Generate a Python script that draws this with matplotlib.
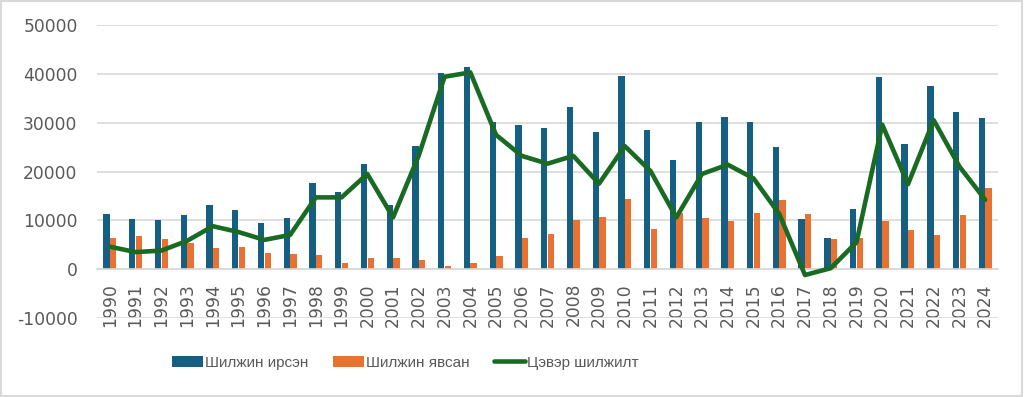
import matplotlib.pyplot as plt
import numpy as np
from matplotlib.patches import Rectangle

years = [str(y) for y in range(1990, 2025)]
arrived = [11200, 10300, 10000, 11000, 13100, 12200, 9400, 10400, 17700, 15900,
           21600, 13100, 25300, 40100, 41500, 30100, 29500, 29000, 33300, 28100,
           39600, 28500, 22400, 30100, 31200, 30200, 25100, 10200, 6400, 12300,
           39400, 25600, 37600, 32100, 30900]
left = [6400, 6700, 6100, 5300, 4300, 4500, 3400, 3200, 2900, 1200,
        2200, 2300, 1800, 600, 1200, 2700, 6400, 7300, 10100, 10600,
        14400, 8300, 11400, 10500, 9900, 11500, 14200, 11300, 6200, 6400,
        9800, 8000, 7000, 11000, 16700]
net = [4600, 3500, 3800, 5800, 8800, 7600, 6000, 7000, 14700, 14700,
       19500, 10600, 23300, 39400, 40300, 27500, 23200, 21600, 23200, 17500,
       25200, 20100, 10600, 19500, 21400, 18600, 11300, -1200, 200, 5500,
       29600, 17400, 30500, 21000, 14200]

blue = "#156082"
orange = "#E97132"
green = "#196B24"
grey = "#595959"

fig = plt.figure(figsize=(10.24, 3.97), dpi=100)
ax = fig.add_axes([0.0947, 0.199, 0.88, 0.738])

x = np.arange(len(years))
w = 0.245
b1 = ax.bar(x - 0.13, arrived, w, color=blue, label="Шилжин ирсэн", zorder=2)
b2 = ax.bar(x + 0.13, left, w, color=orange, label="Шилжин явсан", zorder=2)
l1, = ax.plot(x, net, color=green, linewidth=3.3, label="Цэвэр шилжилт", zorder=3,
              solid_capstyle="round", solid_joinstyle="round")

ax.set_xlim(-0.5, len(years) - 0.5)
ax.set_ylim(-10000, 50000)
ax.set_yticks(np.arange(-10000, 50001, 10000))
ax.set_yticklabels([str(v) for v in range(-10000, 50001, 10000)])
ax.set_xticks(x)
ax.set_xticklabels(years)
ax.grid(axis="y", color="#D9D9D9", linewidth=1.2, zorder=0)
ax.set_axisbelow(True)

for s in ["top", "right", "left"]:
    ax.spines[s].set_visible(False)
ax.spines["bottom"].set_position(("data", 0))
ax.spines["bottom"].set_color("#D9D9D9")
ax.spines["bottom"].set_linewidth(1.2)

ax.tick_params(axis="x", length=0, pad=10, labelsize=12.3, labelcolor=grey,
               labelrotation=90)
ax.tick_params(axis="y", length=0, pad=14, labelsize=12.3, labelcolor=grey)

fig.legend([b1, b2, l1], ["Шилжин ирсэн", "Шилжин явсан", "Цэвэр шилжилт"],
           loc="center", bbox_to_anchor=(0.396, 0.086), ncol=3, frameon=False,
           prop={"family": ["Liberation Sans", "DejaVu Sans"], "size": 11},
           labelcolor=grey, handlelength=2.0, handleheight=0.8, handletextpad=0.15,
           columnspacing=1.6)

fig.patches.append(Rectangle((0.001, 0.002), 0.997, 0.995, transform=fig.transFigure,
                             fill=False, edgecolor="#D9D9D9", linewidth=1.5))

fig.savefig("out.png", dpi=100)
